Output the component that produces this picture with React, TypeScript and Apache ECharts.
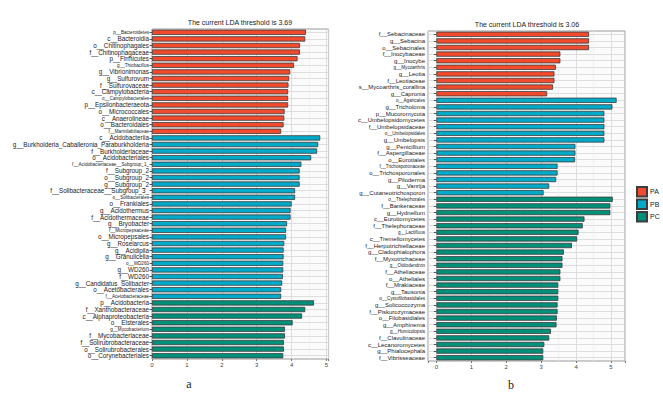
import React, { useEffect, useRef } from 'react';
import * as echarts from 'echarts';

// ---------- Panel a (bacteria) ----------
const leftTitle = 'The current LDA threshold is 3.69';
const leftPALabels = ['p__Bacteroidetes', 'c__Bacteroidia', 'o__Chitinophagales', 'f__Chitinophagaceae', 'p__Firmicutes', 'g__Thiobacillus', 'g__Vibrionimonas', 'g__Sulfurovum', 'f__Sulfurovaceae', 'c__Campylobacteria', 'o__Campylobacterales', 'p__Epsilonbacteraeota', 'o__Micrococcales', 'c__Anaerolineae', 'o__Bacteroidales', 'f__Marinilabiliaceae'];
const leftPAValues = [4.41, 4.39, 4.24, 4.24, 4.17, 4.07, 3.96, 3.93, 3.91, 3.9, 3.9, 3.9, 3.8, 3.79, 3.77, 3.7];
const leftPBLabels = ['c__Acidobacteriia', 'g__Burkholderia_Caballeronia_Paraburkholderia', 'f__Burkholderiaceae', 'o__Acidobacteriales', 'f__Acidobacteriaceae__Subgroup_1_', 'f__Subgroup_2', 'o__Subgroup_2', 'g__Subgroup_2', 'f__Solibacteraceae__Subgroup_3_', 'o__Solibacterales', 'o__Frankiales', 'g__Acidothermus', 'f__Acidothermaceae', 'g__Bryobacter', 'f__Micropepsaceae', 'o__Micropepsales', 'g__Roseiarcus', 'g__Acidipila', 'g__Granulicella', 'o__WD260', 'g__WD260', 'f__WD260', 'g__Candidatus_Solibacter', 'o__Acetobacterales', 'f__Acetobacteraceae'];
const leftPBValues = [4.82, 4.76, 4.73, 4.56, 4.28, 4.23, 4.23, 4.23, 4.1, 4.1, 4.0, 3.97, 3.97, 3.87, 3.84, 3.84, 3.79, 3.77, 3.77, 3.76, 3.76, 3.75, 3.73, 3.7, 3.7];
const leftPCLabels = ['p__Acidobacteria', 'f__Xanthobacteraceae', 'c__Alphaproteobacteria', 'o__Elsterales', 'g__Mycobacterium', 'f__Mycobacteriaceae', 'f__Solirubrobacteraceae', 'o__Solirubrobacterales', 'o__Corynebacteriales'];
const leftPCValues = [4.64, 4.39, 4.3, 4.03, 3.81, 3.81, 3.78, 3.78, 3.76];
const leftSmallLabels = ['p__Bacteroidetes', 'g__Thiobacillus', 'o__Campylobacterales', 'f__Marinilabiliaceae', 'f__Acidobacteriaceae__Subgroup_1_', 'o__Solibacterales', 'f__Micropepsaceae', 'o__WD260', 'f__Acetobacteraceae', 'g__Mycobacterium'];
const xTicks = [0, 1, 2, 3, 4, 5];

// ---------- Panel b (fungi) ----------
const rightTitle = 'The current LDA threshold is 3.06';
const rightPALabels = ['f__Sebacinaceae', 'g__Sebacina', 'o__Sebacinales', 'f__Inocybaceae', 'g__Inocybe', 'g__Mycoarthris', 'g__Leotia', 'f__Leotiaceae', 's__Mycoarthris_corallina', 'g__Capronia'];
const rightPAValues = [4.37, 4.37, 4.37, 3.55, 3.55, 3.42, 3.38, 3.38, 3.34, 3.17];
const rightPBLabels = ['o__Agaricales', 'g__Tricholoma', 'p__Mucoromycota', 'c__Umbelopsidomycetes', 'f__Umbelopsidaceae', 'o__Umbelopsidales', 'g__Umbelopsis', 'g__Penicillium', 'f__Aspergillaceae', 'o__Eurotiales', 'f__Trichosporonaceae', 'o__Trichosporonales', 'g__Piloderma', 'g__Vanrija', 'g__Cutaneotrichosporon'];
const rightPBValues = [5.16, 5.04, 4.81, 4.81, 4.81, 4.81, 4.81, 3.98, 3.98, 3.97, 3.47, 3.47, 3.43, 3.23, 3.07];
const rightPCLabels = ['o__Thelephorales', 'f__Bankeraceae', 'g__Hydnellum', 'c__Eurotiomycetes', 'f__Thelephoraceae', 'g__Lactifluus', 'c__Tremellomycetes', 'f__Herpotrichiellaceae', 'g__Cladophialophora', 'f__Myxotrichaceae', 'g__Oidiodendron', 'f__Atheliaceae', 'o__Atheliales', 'f__Mrakiaceae', 'g__Tausonia', 'o__Cystofilobasidiales', 'g__Solicoccozyma', 'f__Piskurozymaceae', 'o__Filobasidiales', 'g__Amphinema', 'g__Humicolopsis', 'f__Clavulinaceae', 'c__Lecanoromycetes', 'g__Phialocephala', 'f__Vibrisseaceae'];
const rightPCValues = [5.05, 4.98, 4.98, 4.24, 4.19, 4.07, 4.03, 3.88, 3.65, 3.61, 3.61, 3.55, 3.55, 3.49, 3.49, 3.49, 3.47, 3.47, 3.45, 3.44, 3.28, 3.23, 3.09, 3.06, 3.06];
const rightSmallLabels = ['g__Mycoarthris', 'o__Agaricales', 'o__Umbelopsidales', 'f__Trichosporonaceae', 'o__Thelephorales', 'g__Lactifluus', 'g__Oidiodendron', 'o__Cystofilobasidiales', 'g__Humicolopsis'];

const groups = ['PA', 'PB', 'PC'];
const groupColors: Record<string, string> = { PA: '#F24A2C', PB: '#00AAC8', PC: '#00907A' };
const panelLabels = ['a', 'b'];

const FONT = 'Liberation Sans, Arial, sans-serif';

function buildPanel(
  pa: [string[], number[]],
  pb: [string[], number[]],
  pc: [string[], number[]]
) {
  const labels = [...pa[0], ...pb[0], ...pc[0]];
  const values = [...pa[1], ...pb[1], ...pc[1]];
  const grp = [
    ...pa[0].map(() => 'PA'),
    ...pb[0].map(() => 'PB'),
    ...pc[0].map(() => 'PC'),
  ];
  return { labels, values, grp };
}

export default function App() {
  const ref = useRef<HTMLDivElement>(null);
  useEffect(() => {
    if (!ref.current) return;
    const chart = echarts.init(ref.current, null, { renderer: 'svg' });
    const left = buildPanel([leftPALabels, leftPAValues], [leftPBLabels, leftPBValues], [leftPCLabels, leftPCValues]);
    const right = buildPanel([rightPALabels, rightPAValues], [rightPBLabels, rightPBValues], [rightPCLabels, rightPCValues]);

    const xAxisBase = (gridIndex: number, min: number, max: number) => ({
      gridIndex,
      type: 'value',
      min,
      max,
      splitNumber: 5,
      axisLine: { show: false },
      axisTick: { show: true, length: 2, lineStyle: { color: '#555', width: 0.8 } },
      axisLabel: {
        fontSize: 6,
        color: '#444',
        margin: 3,
        fontFamily: FONT,
        showMinLabel: true,
        showMaxLabel: true,
        formatter: (v: number) => (xTicks.includes(v) ? String(v) : ''),
      },
      splitLine: { show: true, lineStyle: { color: '#d6d6d6', width: 0.8 } },
      minorTick: { show: false, splitNumber: 2 },
      minorSplitLine: { show: true, lineStyle: { color: '#ededed', width: 0.6 } },
    });

    const yAxisBase = (gridIndex: number, labels: string[], small: string[], fs: number) => ({
      gridIndex,
      type: 'category',
      data: labels,
      inverse: true,
      axisLine: { show: false },
      axisTick: { show: true, alignWithLabel: true, interval: 0, length: 2.5, lineStyle: { color: '#333', width: 0.8 } },
      axisLabel: {
        interval: 0,
        margin: 3,
        color: '#222',
        fontFamily: FONT,
        fontSize: fs,
        formatter: (v: string) => (small.includes(v) ? `{s|${v}}` : `{n|${v}}`),
        rich: {
          n: { fontSize: fs, color: '#222', fontFamily: FONT },
          s: { fontSize: 4.6, color: '#222', fontFamily: FONT },
        },
      },
      splitLine: { show: true, interval: 0, alignWithLabel: true, lineStyle: { color: '#d6d6d6', width: 0.8 } },
    });

    const seriesFor = (panel: { labels: string[]; values: number[]; grp: string[] }, idx: number) =>
      groups.map((g) => ({
        type: 'bar',
        name: g,
        xAxisIndex: idx,
        yAxisIndex: idx,
        barGap: '-100%',
        barCategoryGap: '20%',
        data: panel.values.map((v, i) => (panel.grp[i] === g ? v : '-')),
        itemStyle: { color: groupColors[g], borderColor: '#3c3c3c', borderWidth: 0.8 },
        emphasis: { disabled: true },
      }));

    const option = {
      animation: false,
      grid: [
        { left: 152, top: 29, width: 176.6, height: 330, show: true, backgroundColor: '#fbfbfb', borderColor: '#9a9a9a', borderWidth: 1 },
        { left: 428, top: 31, width: 197, height: 330, show: true, backgroundColor: '#fbfbfb', borderColor: '#9a9a9a', borderWidth: 1 },
      ],
      xAxis: [xAxisBase(0, 0, 5.06), xAxisBase(1, -0.24, 5.4)],
      yAxis: [
        yAxisBase(0, left.labels, leftSmallLabels, 6.3),
        yAxisBase(1, right.labels, rightSmallLabels, 6.0),
      ],
      legend: {
        data: groups,
        orient: 'vertical',
        left: 636,
        top: 186,
        padding: 0,
        itemWidth: 10,
        itemHeight: 9.5,
        itemGap: 1,
        icon: 'rect',
        textStyle: { fontSize: 7, color: '#222', fontFamily: FONT, padding: [0, 0, 0, -2] },
        selectedMode: false,
      },
      graphic: [
        { type: 'text', x: 240, y: 22.5, style: { text: leftTitle, fontSize: 7, fill: '#222', fontFamily: FONT, align: 'center', verticalAlign: 'middle', textAlign: 'center', textVerticalAlign: 'middle' } },
        { type: 'text', x: 527, y: 24, style: { text: rightTitle, fontSize: 7, fill: '#222', fontFamily: FONT, align: 'center', verticalAlign: 'middle', textAlign: 'center', textVerticalAlign: 'middle' } },
        { type: 'text', x: 189, y: 384, style: { text: panelLabels[0], fontSize: 12, fill: '#222', fontFamily: 'Liberation Serif, serif', align: 'center', verticalAlign: 'middle', textAlign: 'center', textVerticalAlign: 'middle' } },
        { type: 'text', x: 511, y: 385, style: { text: panelLabels[1], fontSize: 12, fill: '#222', fontFamily: 'Liberation Serif, serif', align: 'center', verticalAlign: 'middle', textAlign: 'center', textVerticalAlign: 'middle' } },
      ],
      series: [...seriesFor(left, 0), ...seriesFor(right, 1)],
    };
    chart.setOption(option as any);
    return () => chart.dispose();
  }, []);
  return <div ref={ref} style={{ position: 'fixed', left: 0, top: 0, width: 663, height: 393, background: '#fff' }} />;
}
